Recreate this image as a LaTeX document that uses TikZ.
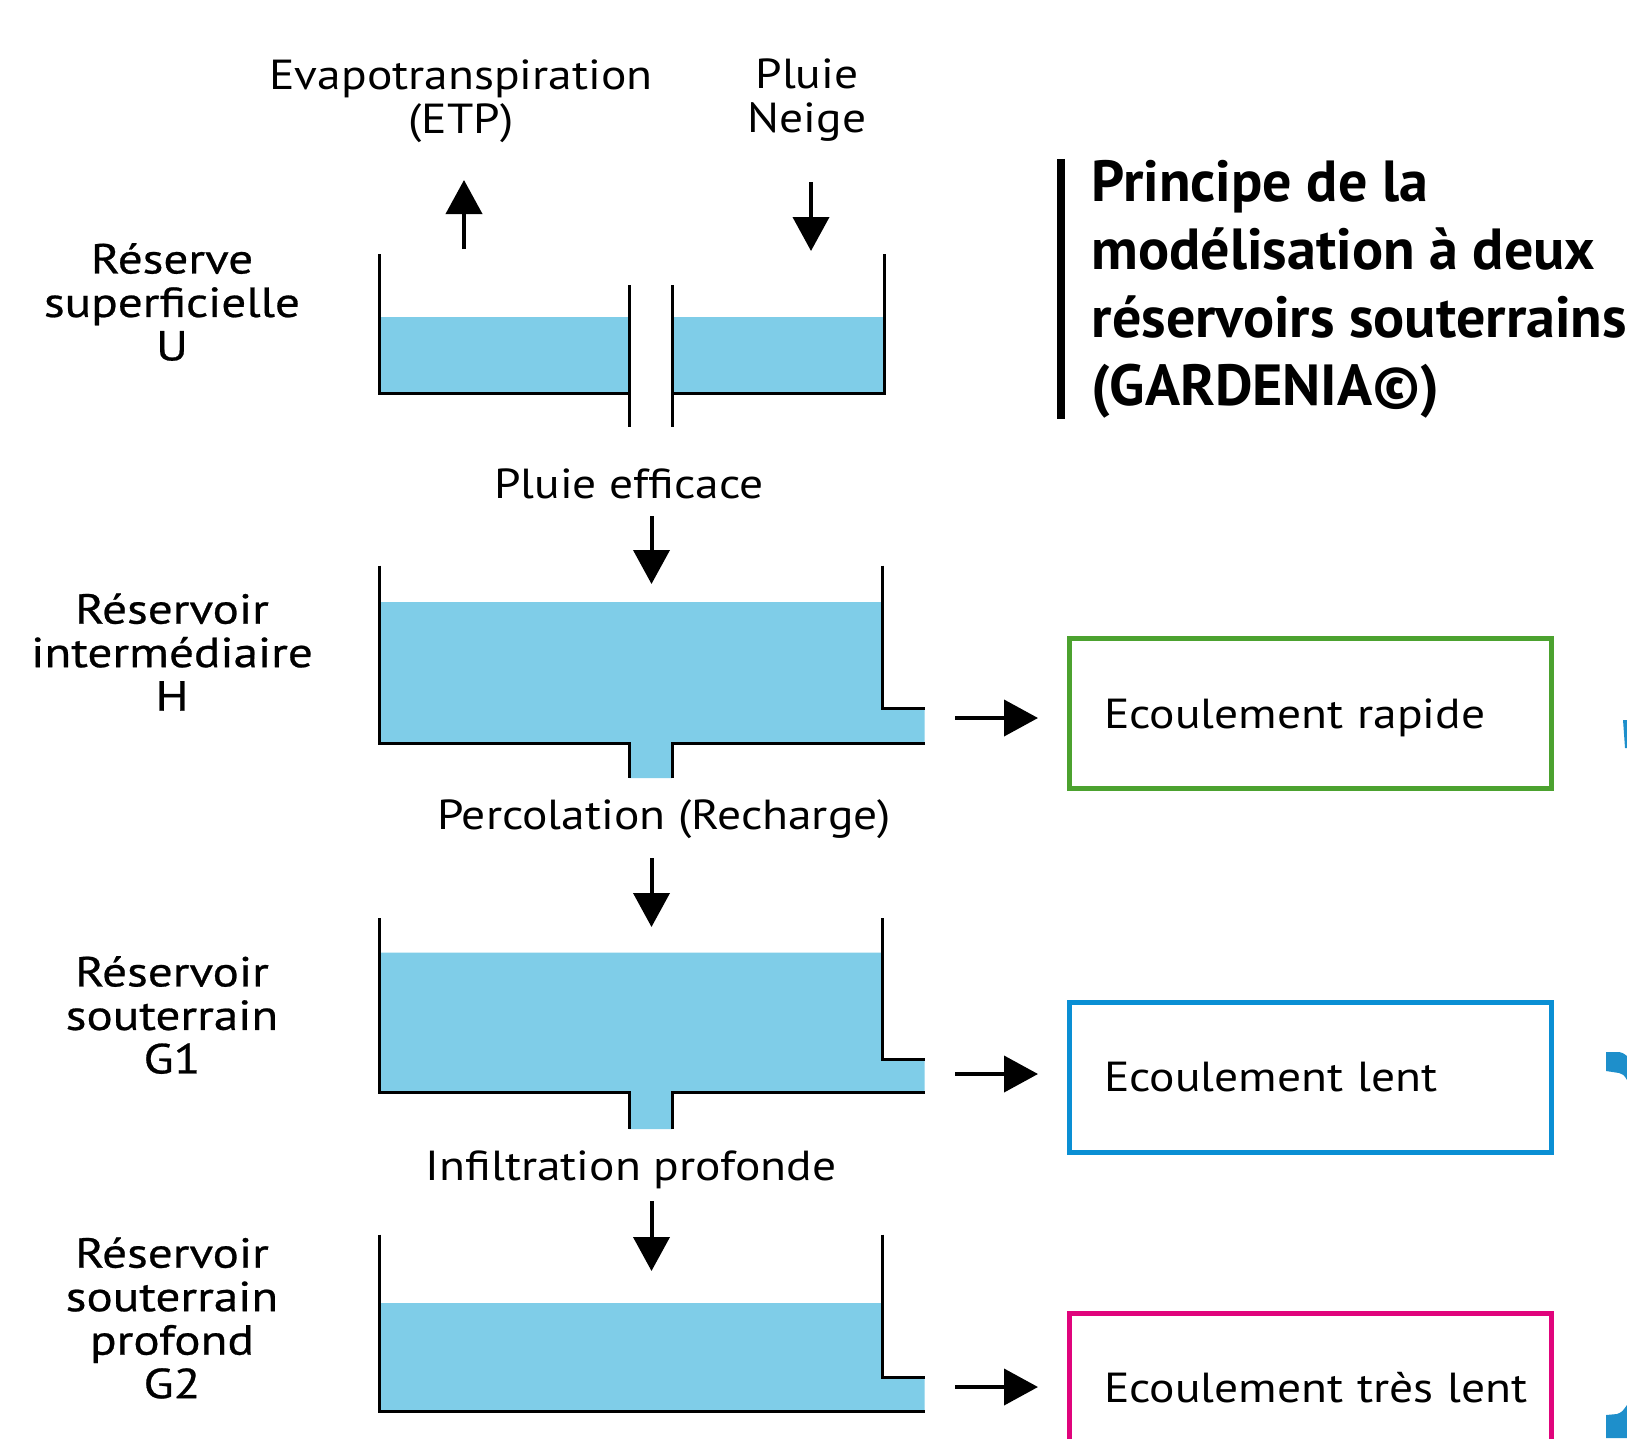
\documentclass[tikz,border=0pt]{standalone}
\usepackage{fontspec}
\setmainfont{PT Sans}[FakeStretch=1.13]
\newfontfamily\sidefont{PT Sans}[FakeStretch=1.17,FakeBold=0.6]
\newfontfamily\titlefont{PT Sans}
\usetikzlibrary{arrows.meta}
\definecolor{water}{HTML}{7FCDE8}
\definecolor{boxgreen}{HTML}{4CA22F}
\definecolor{boxblue}{HTML}{0A8FD4}
\definecolor{boxmag}{HTML}{E0047C}
\definecolor{fragblue}{HTML}{1E8FCB}
\begin{document}
\begin{tikzpicture}[x=1pt,y=-1pt,
  wall/.style={line width=3pt, black, line cap=butt, line join=miter},
  flow/.style={line width=4pt, -{Triangle[length=34pt,width=36pt]}},
  lbl/.style={font=\fontsize{42}{43.5}\selectfont, align=center, inner sep=0pt},
  sidelbl/.style={font=\sidefont\fontsize{42}{43.5}\selectfont, align=center, inner sep=0pt},
  outbox/.style={draw, line width=5pt, font=\fontsize{42}{43.5}\selectfont,
    text width=452pt, align=left, inner xsep=15pt, inner ysep=0pt, minimum height=150pt}]
\clip (0,0) rectangle (1627,1438);
\fill[white] (0,0) rectangle (1627,1438);

% ---------- Tank U ----------
\fill[water] (379,316.5) rectangle (629,393);
\fill[water] (672,316.5) rectangle (884,393);
\draw[wall] (379,254) -- (379,393) -- (629,393);
\draw[wall] (629,285) -- (629,427);
\draw[wall] (672,285) -- (672,427);
\draw[wall] (672,393) -- (884,393) -- (884,254);

% ---------- Tank H ----------
\fill[water] (379,602) -- (882,602) -- (882,708.7) -- (924.5,708.7) -- (924.5,743)
  -- (672,743) -- (672,778) -- (629,778) -- (629,743) -- (379,743) -- cycle;
\draw[wall] (379,565.5) -- (379,743) -- (629,743) -- (629,778);
\draw[wall] (672,778) -- (672,743) -- (924.5,743);
\draw[wall] (882,565.5) -- (882,708.7) -- (924.5,708.7);

% ---------- Tank G1 ----------
\fill[water] (379,952.5) -- (882,952.5) -- (882,1059.4) -- (924.5,1059.4) -- (924.5,1092.6)
  -- (672,1092.6) -- (672,1129) -- (629,1129) -- (629,1092.6) -- (379,1092.6) -- cycle;
\draw[wall] (379,918) -- (379,1092.6) -- (629,1092.6) -- (629,1129);
\draw[wall] (672,1129) -- (672,1092.6) -- (924.5,1092.6);
\draw[wall] (882,918) -- (882,1059.4) -- (924.5,1059.4);

% ---------- Tank G2 ----------
\fill[water] (379,1303) -- (882,1303) -- (882,1377) -- (924.5,1377) -- (924.5,1411)
  -- (379,1411) -- cycle;
\draw[wall] (379,1234.7) -- (379,1411) -- (924.5,1411);
\draw[wall] (882,1234.7) -- (882,1377) -- (924.5,1377);

% ---------- Labels ----------
\node[lbl] (etp) at (461,101) {Evapotranspiration\\(ETP)};
\node[lbl] (pluie) at (807,100) {Pluie\\Neige};
\node[sidelbl] (labU) at (172,302) {Réserve\\superficielle\\U};
\node[sidelbl] (labH) at (172,652) {Réservoir\\intermédiaire\\H};
\node[sidelbl] (labG1) at (172,1015) {Réservoir\\souterrain\\G1};
\node[sidelbl] (labG2) at (172,1318) {Réservoir\\souterrain\\profond\\G2};
\node[lbl] (peff) at (629,483.5) {Pluie efficace};
\node[lbl] (perc) at (664,819.5) {Percolation (Recharge)};
\node[lbl] (infil) at (631,1170) {Infiltration profonde};

% ---------- Vertical arrows ----------
\coordinate (etpS) at (464,249);
\coordinate (etpE) at (464,180);
\coordinate (plS) at (811,182);
\coordinate (plE) at (811,251);
\coordinate (peS) at (651.5,516);
\coordinate (peE) at (651.5,584);
\coordinate (peS2) at (651.5,858);
\coordinate (peE2) at (651.5,927);
\coordinate (inS) at (651.5,1201);
\coordinate (inE) at (651.5,1271);
\draw[flow] (etpS) -- (etpE);
\draw[flow] (plS) -- (plE);
\draw[flow] (peS) -- (peE);
\draw[flow] (peS2) -- (peE2);
\draw[flow] (inS) -- (inE);

% ---------- Output boxes ----------
\node[outbox, draw=boxgreen] (rap) at (1310,713.3) {\hspace*{20pt}\raisebox{-5pt}[\height][\depth]{Ecoulement rapide}};
\node[outbox, draw=boxblue] (lent) at (1310,1077.5) {\hspace*{20pt}Ecoulement lent};
\node[outbox, draw=boxmag] (tlent) at (1310,1388) {\hspace*{20pt}Ecoulement très lent};

% ---------- Horizontal arrows ----------
\coordinate (hS1) at (955,718);
\coordinate (hE1) at (1038,718);
\coordinate (hS2) at (955,1074);
\coordinate (hE2) at (1038,1074);
\coordinate (hS3) at (955,1387);
\coordinate (hE3) at (1038,1387);
\draw[flow] (hS1) -- (hE1);
\draw[flow] (hS2) -- (hE2);
\draw[flow] (hS3) -- (hE3);

% ---------- Title ----------
\draw[line width=8pt] (1060.5,158.8) -- (1060.5,419);
\node[font={\titlefont\bfseries\fontsize{58}{68}\selectfont}, align=left, anchor=west, inner sep=0pt]
  (title) at (1091.5,289) {Principe de la\\modélisation à deux\\réservoirs souterrains\\(GARDENIA©)};

% ---------- Cut-off fragments at the right edge ----------
\fill[fragblue] (1623,720) -- (1627,720) -- (1627,748) -- (1625,748) -- cycle;
\fill[fragblue] (1606,1052) -- (1619,1052) .. controls (1623,1053) .. (1627,1056)
  -- (1627,1080) .. controls (1624,1075) .. (1619,1073) -- (1606,1071) -- cycle;
\fill[fragblue] (1606,1415) -- (1617,1414) .. controls (1622,1412) .. (1627,1405)
  -- (1627,1438) -- (1606,1438) -- cycle;
\end{tikzpicture}
\end{document}
